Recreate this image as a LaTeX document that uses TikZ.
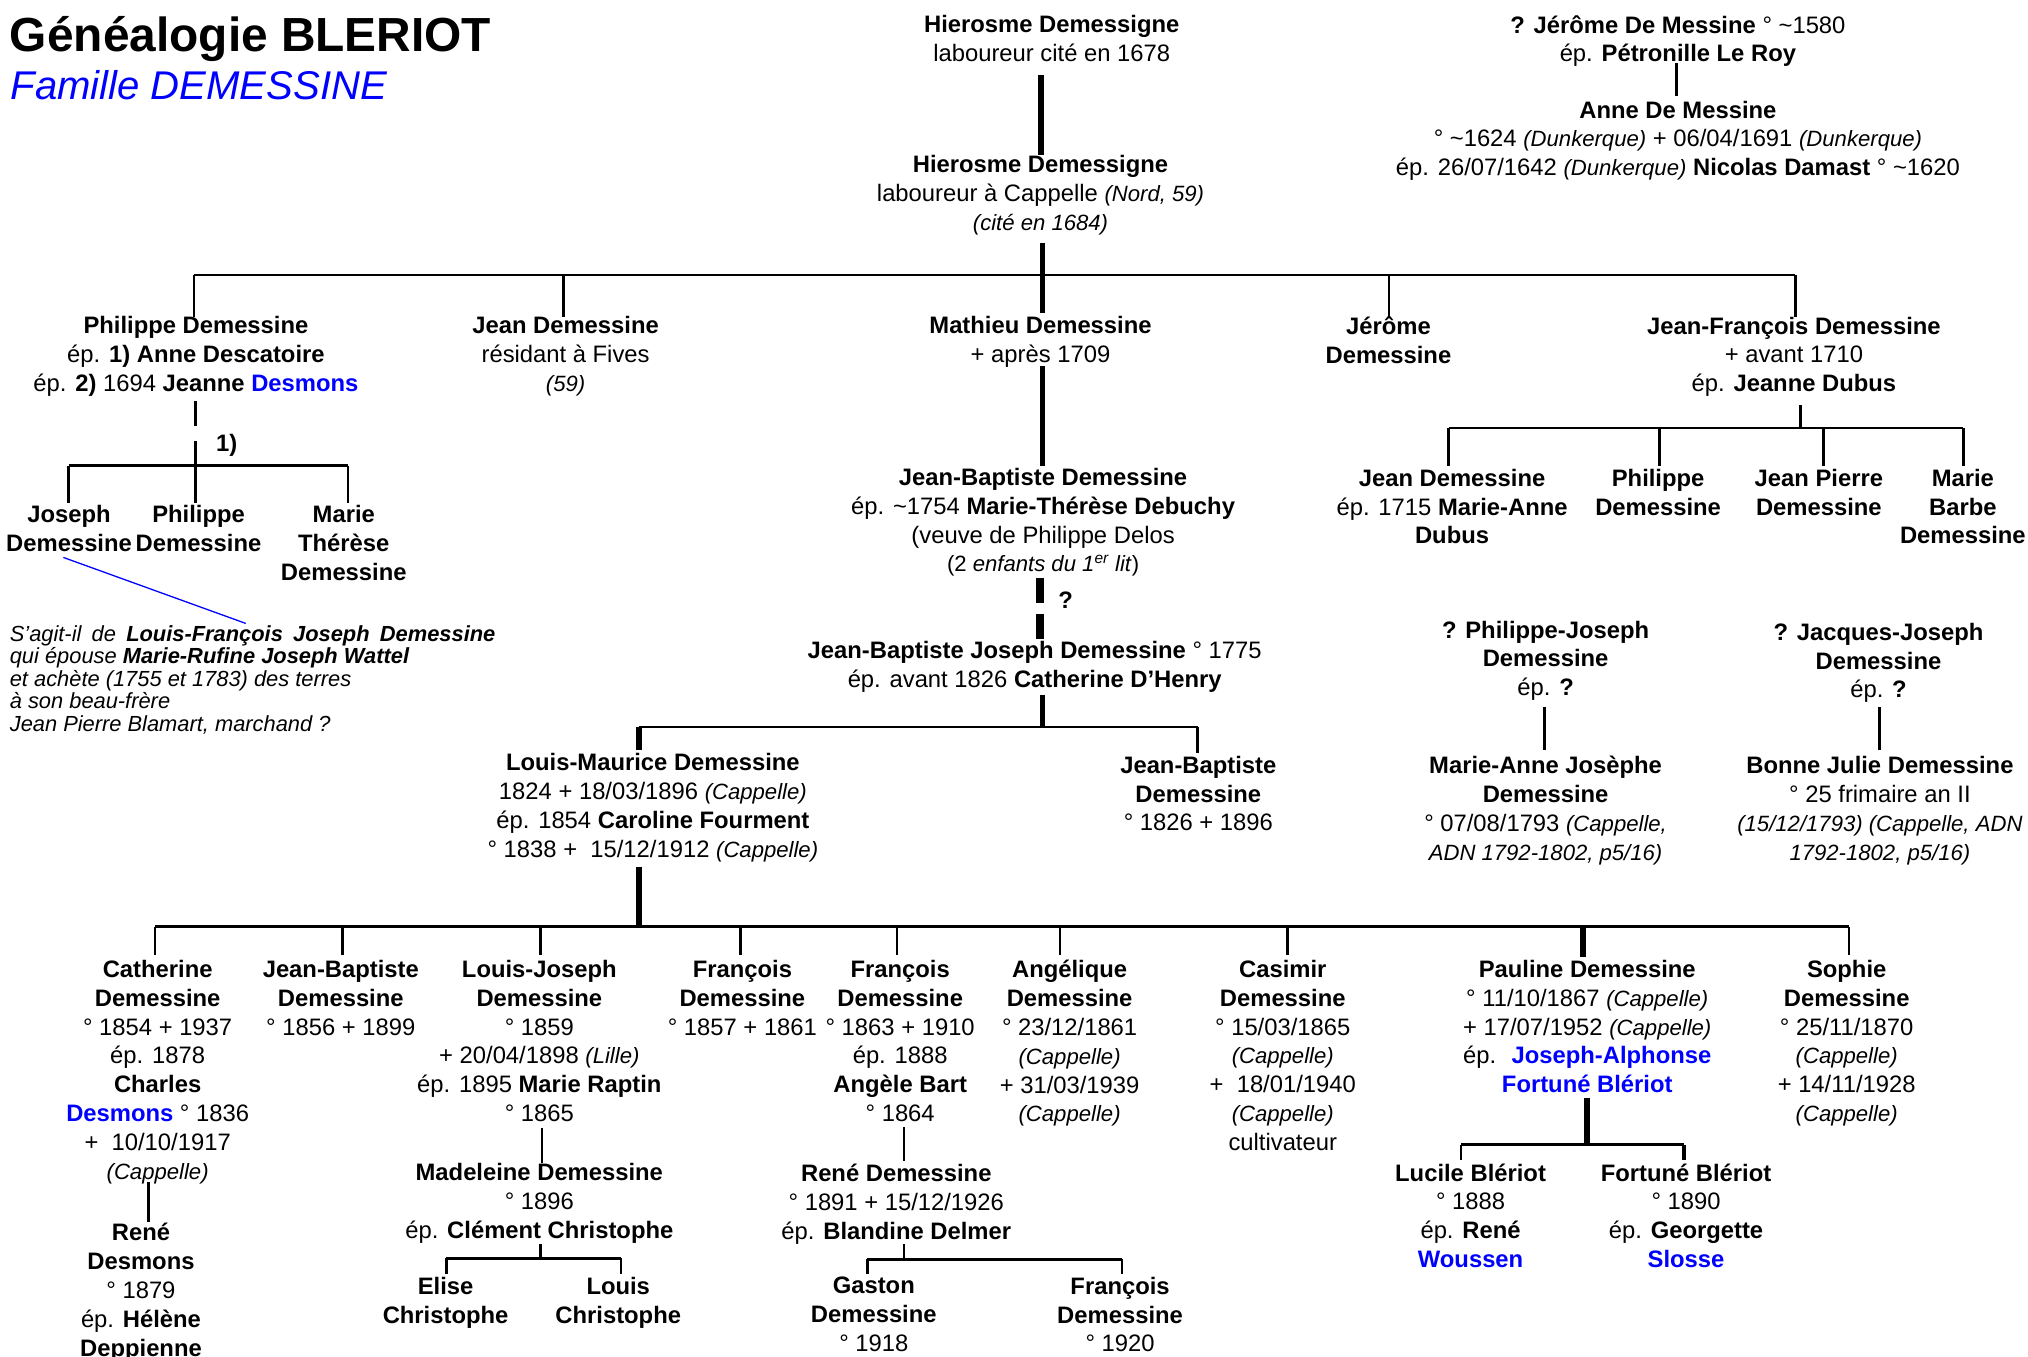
\documentclass[tikz,border=0pt]{standalone}
\usepackage{fontspec}
\setmainfont{Liberation Sans}
\usetikzlibrary{calc}
\newcommand\fs{\rule{0pt}{15pt}}
\newcommand\ii[1]{{\fontsize{17.1}{22.3}\selectfont\itshape #1}}
\newcommand\bb[1]{\textcolor{blue}{\bfseries #1}}
\tikzset{
  p/.style={anchor=north, align=center, inner sep=0pt, outer sep=0pt, yshift=-1.5pt,
    font=\fontsize{18.4}{22.3}\selectfont, execute at begin node=\fs},
  thn/.style={line width=2pt},
  thk/.style={line width=4.5pt},
  dsh/.style={line width=6.5pt, dash pattern=on 19.5pt off 8pt},
  notebox/.style={anchor=north west, align=left, inner sep=0pt, outer sep=0pt, yshift=-1pt,
    font=\fontsize{16.9}{17.4}\selectfont\itshape, execute at begin node={\rule{0pt}{13pt}}}
}
\begin{document}
\begin{tikzpicture}[x=1pt,y=-1pt]
\fill[white] (0,0) rectangle (1568,1049);
\useasboundingbox (0,0) rectangle (1568,1049);

% titles
\node[anchor=base west, inner sep=0pt, font=\fontsize{37}{40}\selectfont\bfseries] (title) at (7.5,40) {Généalogie BLERIOT};
\node[anchor=base west, inner sep=0pt, text=blue, font=\fontsize{31}{34}\selectfont\itshape] (sub) at (8,77.3) {Famille DEMESSINE};

% top generations
\node[p] (hd1) at (813.2,10.3) {\textbf{Hierosme Demessigne}\\laboureur cité en 1678};
\node[p] (hd2) at (804.5,118.5) {\textbf{Hierosme Demessigne}\\laboureur à Cappelle \ii{(Nord, 59)}\\\ii{(cité en 1684)}};
\node[p] (jdm) at (1297.3,10.3) {\textbf{? Jérôme De Messine} ° \textasciitilde1580\\ép. \textbf{Pétronille Le Roy}};
\node[p] (adm) at (1297.3,76.5) {\textbf{Anne De Messine}\\° \textasciitilde1624 \ii{(Dunkerque)} + 06/04/1691 \ii{(Dunkerque)}\\ép. 26/07/1642 \ii{(Dunkerque)} \textbf{Nicolas Damast} ° \textasciitilde1620};

% second row
\node[p] (phil) at (151.5,243.3) {\textbf{Philippe Demessine}\\ép. \textbf{1) Anne Descatoire}\\ép. \textbf{2)} 1694 \textbf{Jeanne} \bb{Desmons}};
\node[p] (jean) at (437.3,243.3) {\textbf{Jean Demessine}\\résidant à Fives\\\ii{(59)}};
\node[p] (math) at (804.5,243.3) {\textbf{Mathieu Demessine}\\+ après 1709};
\node[p] (jero) at (1073.5,243.3) {\textbf{Jérôme}\\\textbf{Demessine}};
\node[p] (jf) at (1387,243.5) {\textbf{Jean-François Demessine}\\+ avant 1710\\ép. \textbf{Jeanne Dubus}};

% Philippe's children
\node[p] (jos) at (53.4,389.5) {\textbf{Joseph}\\\textbf{Demessine}};
\node[p] (phc) at (153.5,389.5) {\textbf{Philippe}\\\textbf{Demessine}};
\node[p] (mth) at (265.8,389.5) {\textbf{Marie}\\\textbf{Thérèse}\\\textbf{Demessine}};
\node[p] (one) at (175.3,332.2) {\textbf{1)}};
\node[notebox] (note) at (7.6,482.7) {\makebox[375.4pt][s]{S’agit-il de \textbf{Louis-François Joseph Demessine}}\\
qui épouse \textbf{Marie-Rufine Joseph Wattel}\\
et achète (1755 et 1783) des terres\\
à son beau-frère\\
Jean Pierre Blamart, marchand ?};

% Jean-François' children
\node[p] (jd2) at (1122.7,361.1) {\textbf{Jean Demessine}\\ép. 1715 \textbf{Marie-Anne}\\\textbf{Dubus}};
\node[p] (ph2) at (1282,361.1) {\textbf{Philippe}\\\textbf{Demessine}};
\node[p] (jp) at (1406.3,361.1) {\textbf{Jean Pierre}\\\textbf{Demessine}};
\node[p] (mb) at (1517.6,361.1) {\textbf{Marie}\\\textbf{Barbe}\\\textbf{Demessine}};

% Mathieu's line
\node[p] (jb) at (806.5,360.5) {\textbf{Jean-Baptiste Demessine}\\ép. \textasciitilde1754 \textbf{Marie-Thérèse Debuchy}\\(veuve de Philippe Delos\\{\fontsize{17.1}{22.3}\selectfont (2 \textit{enfants du 1\textsuperscript{er} lit})}};
\node[p] (qm) at (824,454) {\textbf{?}};
\node[p] (jbj) at (800,494.5) {\textbf{Jean-Baptiste Joseph Demessine} ° 1775\\ép. avant 1826 \textbf{Catherine D’Henry}};

\node[p] (lm) at (504.8,581.1) {\textbf{Louis-Maurice Demessine}\\1824 + 18/03/1896 \ii{(Cappelle)}\\ép. 1854 \textbf{Caroline Fourment}\\° 1838 + \ 15/12/1912 \ii{(Cappelle)}};
\node[p] (jbr) at (926.5,583) {\textbf{Jean-Baptiste}\\\textbf{Demessine}\\° 1826 + 1896};

% question branches
\node[p] (pj) at (1195,478.5) {\textbf{? Philippe-Joseph}\\\textbf{Demessine}\\ép. \textbf{?}};
\node[p] (mar) at (1195,583.3) {\textbf{Marie-Anne Josèphe}\\\textbf{Demessine}\\° 07/08/1793 \ii{(Cappelle,}\\\ii{ADN 1792-1802, p5/16)}};
\node[p] (jj) at (1452.4,480.2) {\textbf{? Jacques-Joseph}\\\textbf{Demessine}\\ép. \textbf{?}};
\node[p] (bon) at (1453.5,583.3) {\textbf{Bonne Julie Demessine}\\° 25 frimaire an II\\\ii{(15/12/1793) (Cappelle, ADN}\\\ii{1792-1802, p5/16)}};

% bottom row
\node[p] (cat) at (121.9,740.9) {\textbf{Catherine}\\\textbf{Demessine}\\° 1854 + 1937\\ép. 1878\\\textbf{Charles}\\\bb{Desmons} ° 1836\\+ \ 10/10/1917\\\ii{(Cappelle)}};
\node[p] (jb3) at (263.5,740.9) {\textbf{Jean-Baptiste}\\\textbf{Demessine}\\° 1856 + 1899};
\node[p] (lj) at (417,740.9) {\textbf{Louis-Joseph}\\\textbf{Demessine}\\° 1859\\+ 20/04/1898 \ii{(Lille)}\\ép. 1895 \textbf{Marie Raptin}\\° 1865};
\node[p] (fr1) at (574,740.9) {\textbf{François}\\\textbf{Demessine}\\° 1857 + 1861};
\node[p] (fr2) at (696,740.9) {\textbf{François}\\\textbf{Demessine}\\° 1863 + 1910\\ép. 1888\\\textbf{Angèle Bart}\\° 1864};
\node[p] (ang) at (827,740.9) {\textbf{Angélique}\\\textbf{Demessine}\\° 23/12/1861\\\ii{(Cappelle)}\\+ 31/03/1939\\\ii{(Cappelle)}};
\node[p] (cas) at (991.8,740.9) {\textbf{Casimir}\\\textbf{Demessine}\\° 15/03/1865\\\ii{(Cappelle)}\\+ \ 18/01/1940\\\ii{(Cappelle)}\\cultivateur};
\node[p] (pau) at (1227.2,740.9) {\textbf{Pauline Demessine}\\° 11/10/1867 \ii{(Cappelle)}\\+ 17/07/1952 \ii{(Cappelle)}\\ép. \ \bb{Joseph-Alphonse}\\\bb{Fortuné Blériot}};
\node[p] (sop) at (1427.8,740.9) {\textbf{Sophie}\\\textbf{Demessine}\\° 25/11/1870\\\ii{(Cappelle)}\\+ 14/11/1928\\\ii{(Cappelle)}};

% grandchildren
\node[p] (rd) at (109,944.5) {\textbf{René}\\\textbf{Desmons}\\° 1879\\ép. \textbf{Hélène}\\\textbf{Deppienne}};
\node[p] (mad) at (417,898.1) {\textbf{Madeleine Demessine}\\° 1896\\ép. \textbf{Clément Christophe}};
\node[p] (eli) at (344.5,985.8) {\textbf{Elise}\\\textbf{Christophe}};
\node[p] (lou) at (478,985.8) {\textbf{Louis}\\\textbf{Christophe}};
\node[p] (ren) at (693,898.7) {\textbf{René Demessine}\\° 1891 + 15/12/1926\\ép. \textbf{Blandine Delmer}};
\node[p] (gas) at (675.6,985.8) {\textbf{Gaston}\\\textbf{Demessine}\\° 1918};
\node[p] (fr3) at (866,985.8) {\textbf{François}\\\textbf{Demessine}\\° 1920};
\node[p] (luc) at (1137,898.2) {\textbf{Lucile Blériot}\\° 1888\\ép. \textbf{René}\\\bb{Woussen}};
\node[p] (fot) at (1303.6,898.2) {\textbf{Fortuné Blériot}\\° 1890\\ép. \textbf{Georgette}\\\bb{Slosse}};

% ---------- connectors ----------
% Hierosme line (thick)
\coordinate (a1) at (805,58);
\coordinate (a2) at (805,120);
\draw[thk] (a1) -- (a2);
\coordinate (a3) at (806,188);
\coordinate (a4) at (806,242);
\draw[thk] (a3) -- (a4);
% top sibling bar
\coordinate (b1L) at (150,212.5);
\coordinate (b1J) at (435.5,212.5);
\coordinate (b1G) at (1074,212.5);
\coordinate (b1R) at (1388,212.5);
\draw[thn] (b1L) -- (b1R);
\draw[thn] (b1L) -- (b1L |- phil.north);
\draw[thn] (b1J) -- (b1J |- jean.north);
\draw[thn] (b1G) -- (b1G |- jero.north);
\draw[thn] (b1R) -- (b1R |- jf.north);

% De Messine
\coordinate (m1) at (1296.4,49);
\coordinate (m2) at (1296.4,74);
\draw[thn] (m1) -- (m2);

% Philippe's children
\coordinate (p1) at (151,310);
\coordinate (p2) at (151,329);
\coordinate (p3) at (151,341);
\coordinate (pb) at (151,360);
\coordinate (pL) at (53,360);
\coordinate (pR) at (269,360);
\draw[thn] (p1) -- (p2);
\draw[thn] (p3) -- (pb);
\draw[thn] (pL) -- (pR);
\draw[thn] (pL) -- (53,388.6) coordinate (pLe);
\draw[thn] (pb) -- (151,388.6) coordinate (pMe);
\draw[thn] (pR) -- (269,388.6) coordinate (pRe);
\draw[blue, line width=1pt] (49,431) coordinate (n1) -- (190,482) coordinate (n2);

% Jean-François' children
\coordinate (f1) at (1392,313);
\coordinate (fb) at (1392,331);
\coordinate (fL) at (1120,331);
\coordinate (fA) at (1283,331);
\coordinate (fB) at (1410,331);
\coordinate (fR) at (1518,331);
\draw[thn] (f1) -- (fb);
\draw[thn] (fL) -- (fR);
\foreach \c in {fL,fA,fB,fR} \draw[thn] (\c) -- ++(0,29);

% Mathieu -> Jean-Baptiste -> JBJ
\coordinate (c1) at (806,283);
\coordinate (c2) at (806,360);
\draw[thk] (c1) -- (c2);
\coordinate (d1) at (804,447);
\coordinate (d2) at (804,494);
\draw[dsh] (d1) -- (d2);
\coordinate (e1) at (806,537);
\coordinate (e2) at (806,562);
\draw[thk] (e1) -- (e2);
\coordinate (eL) at (494,562);
\coordinate (eR) at (926,562);
\draw[thn] (eL) -- (eR);
\draw[thk] (eL) -- (494,580) coordinate (eLe);
\draw[thn] (eR) -- (926,582) coordinate (eRe);

% question lines
\coordinate (q1) at (1194,547);
\coordinate (q2) at (1194,580);
\draw[thn] (q1) -- (q2);
\coordinate (q3) at (1453,547);
\coordinate (q4) at (1453,580);
\draw[thn] (q3) -- (q4);

% Louis-Maurice -> children
\coordinate (g1) at (494,670);
\coordinate (gb) at (494,716.5);
\draw[thk] (g1) -- (gb);
\coordinate (gL) at (120,716.5);
\coordinate (gR) at (1429.6,716.5);
\draw[thn] (gL) -- (gR);
\foreach \xx in {120,265,418,572.6,693.5,819.4,995.5,1429.6}
  \draw[thn] (\xx,716.5) -- (\xx,738);
\coordinate (gP) at (1224,716.5);
\draw[thk] (gP) -- (1224,740);

% Catherine -> René Desmons
\coordinate (h1) at (115,914);
\coordinate (h2) at (115,944.5);
\draw[thn] (h1) -- (h2);
% Louis-Joseph -> Madeleine -> children
\coordinate (i1) at (419,872);
\coordinate (i2) at (419,899);
\draw[thn] (i1) -- (i2);
\coordinate (i3) at (418,962);
\coordinate (i4) at (418,973);
\draw[thn] (i3) -- (i4);
\coordinate (iL) at (345,973);
\coordinate (iR) at (480,973);
\draw[thn] (iL) -- (iR);
\draw[thn] (iL) -- (345,985);
\draw[thn] (iR) -- (480,985);
% François -> René -> children
\coordinate (k1) at (699,871.5);
\coordinate (k2) at (699,898);
\draw[thn] (k1) -- (k2);
\coordinate (k3) at (699,962);
\coordinate (k4) at (699,973.7);
\draw[thn] (k3) -- (k4);
\coordinate (kL) at (670.6,973.7);
\coordinate (kR) at (867.4,973.7);
\draw[thn] (kL) -- (kR);
\draw[thn] (kL) -- (670.6,985);
\draw[thn] (kR) -- (867.4,985);
% Pauline -> children
\coordinate (l1) at (1227,849);
\coordinate (l2) at (1227,885);
\draw[thk] (l1) -- (l2);
\coordinate (lL) at (1129.6,885);
\coordinate (lR) at (1302,885);
\draw[thn] (lL) -- (lR);
\draw[thn] (lL) -- (1129.6,897);
\draw[line width=3.2pt] (lR) -- (1302,897);
\end{tikzpicture}
\end{document}
